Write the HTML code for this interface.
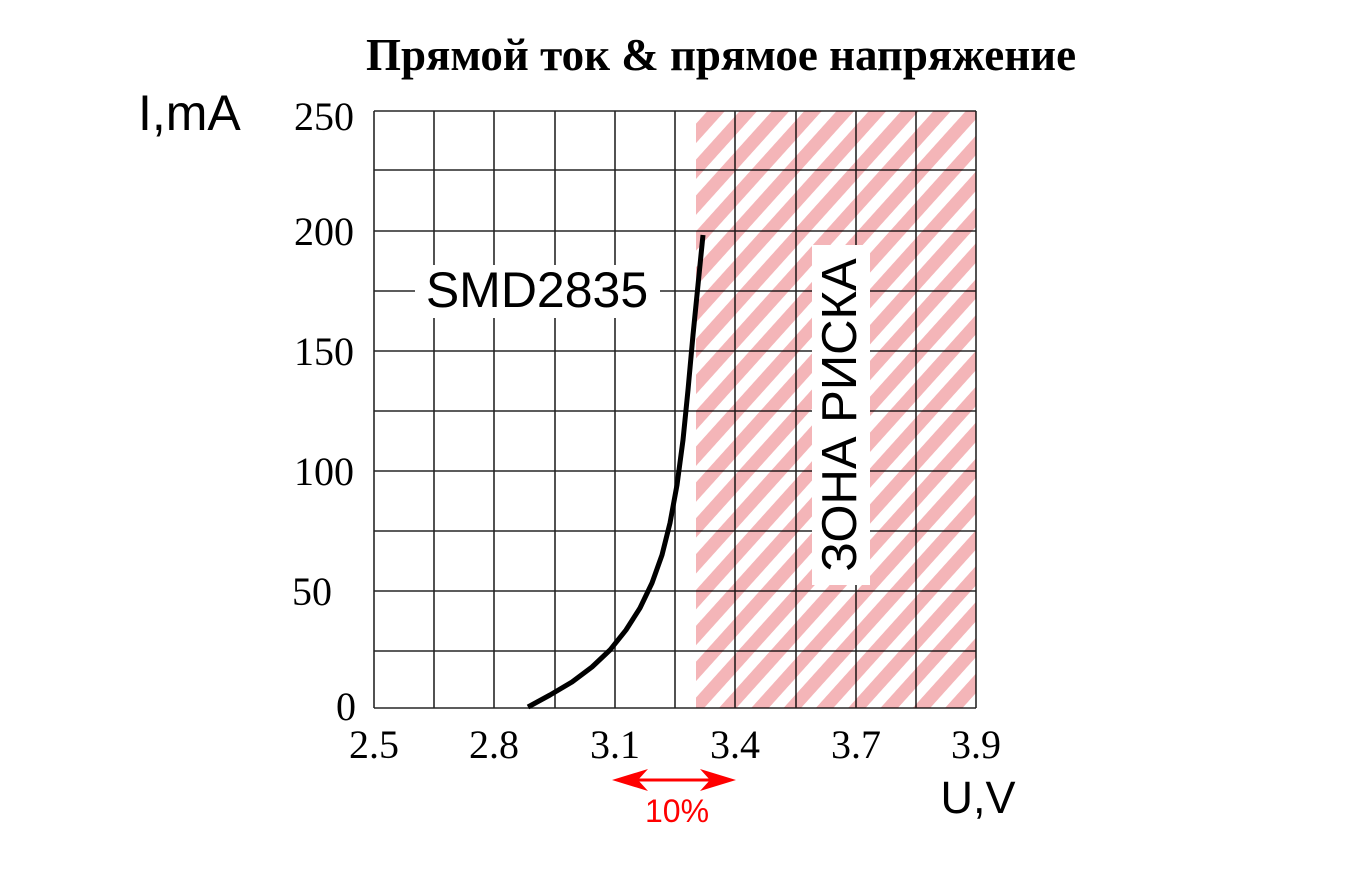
<!DOCTYPE html>
<html><head><meta charset="utf-8"><style>body{margin:0;background:#fff}</style></head>
<body>
<svg width="1353" height="864" xmlns="http://www.w3.org/2000/svg">
<defs>
<pattern id="h" patternUnits="userSpaceOnUse" width="24" height="40" patternTransform="rotate(42)">
<rect x="0" y="0" width="13" height="40" fill="#f4b5b8"/>
</pattern>
</defs>
<rect x="696" y="111" width="280" height="597" fill="url(#h)"/>
<g stroke="#000" stroke-width="1.6" opacity="0.85">
<line x1="374" y1="111" x2="976" y2="111"/>
<line x1="374" y1="170" x2="976" y2="170"/>
<line x1="374" y1="231" x2="976" y2="231"/>
<line x1="374" y1="291" x2="976" y2="291"/>
<line x1="374" y1="351" x2="976" y2="351"/>
<line x1="374" y1="411" x2="976" y2="411"/>
<line x1="374" y1="471" x2="976" y2="471"/>
<line x1="374" y1="531" x2="976" y2="531"/>
<line x1="374" y1="591" x2="976" y2="591"/>
<line x1="374" y1="651" x2="976" y2="651"/>
<line x1="374" y1="708" x2="976" y2="708"/>
<line x1="374" y1="111" x2="374" y2="708"/>
<line x1="434" y1="111" x2="434" y2="708"/>
<line x1="494" y1="111" x2="494" y2="708"/>
<line x1="555" y1="111" x2="555" y2="708"/>
<line x1="615" y1="111" x2="615" y2="708"/>
<line x1="675" y1="111" x2="675" y2="708"/>
<line x1="735" y1="111" x2="735" y2="708"/>
<line x1="796" y1="111" x2="796" y2="708"/>
<line x1="856" y1="111" x2="856" y2="708"/>
<line x1="916" y1="111" x2="916" y2="708"/>
<line x1="976" y1="111" x2="976" y2="708"/>
</g>
<rect x="415" y="265" width="245" height="53" fill="#fff"/>
<rect x="812" y="245" width="58" height="340" fill="#fff"/>
<polyline points="528,707 550,695 572,682 592,667 610,650 626,630 640,608 652,583 662,555 670,523 677,485 683,440 688,390 693,335 698,285 703,235" fill="none" stroke="#000" stroke-width="5" stroke-linejoin="round"/>
<text x="721" y="70" font-family="Liberation Serif" font-weight="bold" font-size="45" text-anchor="middle">Прямой ток &amp; прямое напряжение</text>
<text x="138" y="130" font-family="Liberation Sans" font-size="50">I,mA</text>
<g font-family="Liberation Serif" font-size="40" text-anchor="end">
<text x="354" y="130">250</text><text x="354" y="245">200</text><text x="354" y="365">150</text>
<text x="354" y="485">100</text><text x="332" y="605">50</text><text x="356" y="720">0</text>
</g>
<g font-family="Liberation Serif" font-size="40" text-anchor="middle">
<text x="374" y="758">2.5</text><text x="494" y="758">2.8</text><text x="615" y="758">3.1</text>
<text x="735" y="758">3.4</text><text x="856" y="758">3.7</text><text x="976" y="758">3.9</text>
</g>
<text x="978" y="813" font-family="Liberation Sans" font-size="45" text-anchor="middle">U,V</text>
<text x="537" y="307" font-family="Liberation Sans" font-size="50" text-anchor="middle">SMD2835</text>
<text transform="translate(856,415) rotate(-90)" font-family="Liberation Sans" font-size="49" text-anchor="middle">ЗОНА РИСКА</text>
<line x1="620" y1="780" x2="728" y2="780" stroke="#f00" stroke-width="3"/>
<path d="M612,780 L648,769 L638,780 L648,791 Z" fill="#f00"/>
<path d="M736,780 L700,769 L710,780 L700,791 Z" fill="#f00"/>
<text x="677" y="822" font-family="Liberation Sans" font-size="32" fill="#f00" text-anchor="middle">10%</text>
</svg>
</body></html>
